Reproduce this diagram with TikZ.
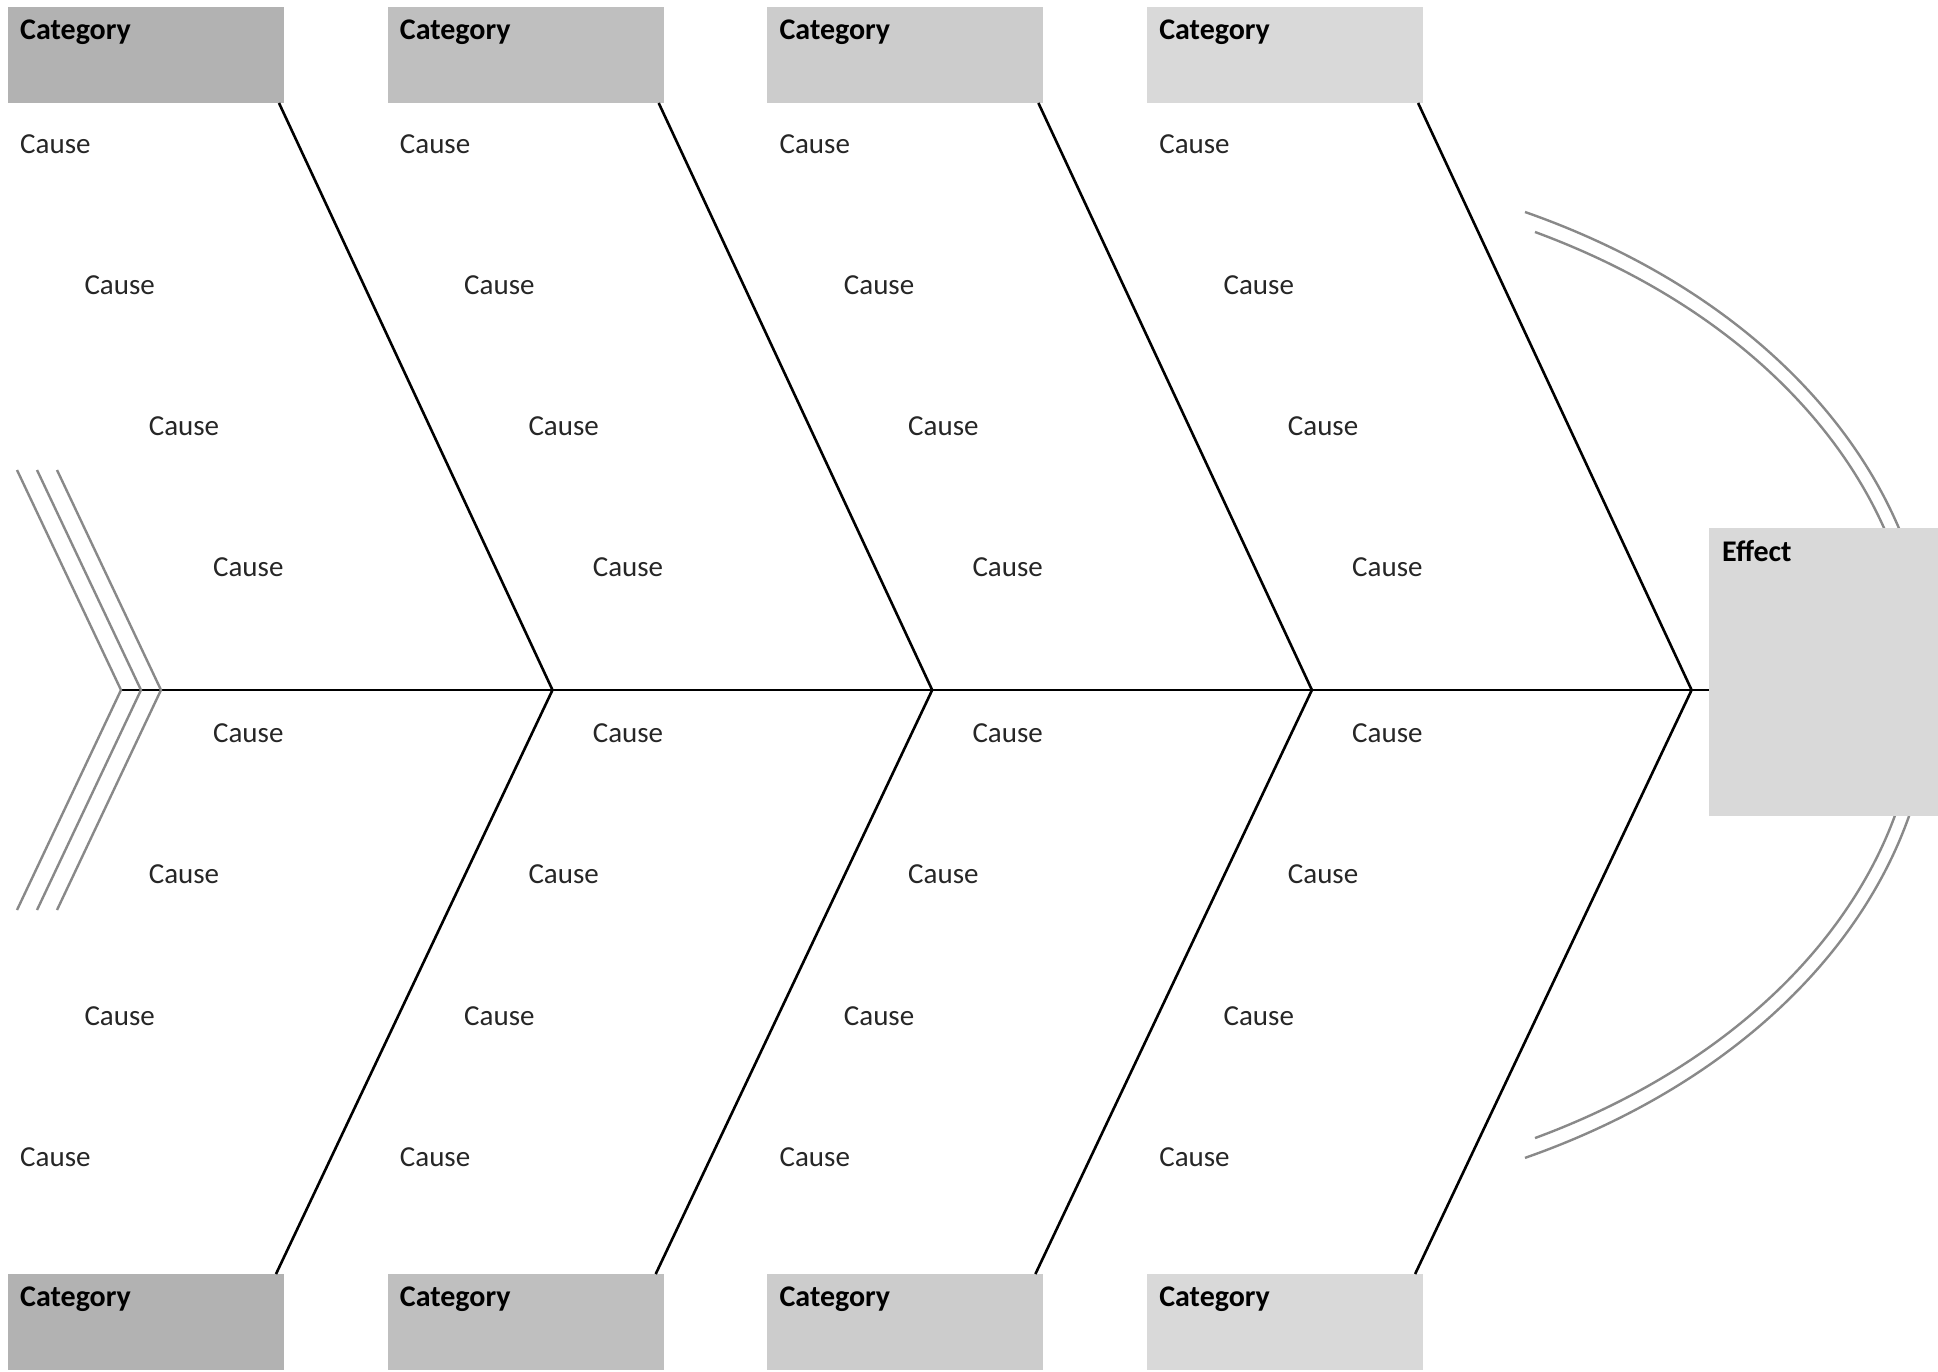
\documentclass[tikz,border=0pt]{standalone}
\usepackage{fontspec}
\setmainfont{Carlito}
\definecolor{cA}{HTML}{B2B2B2}
\definecolor{cB}{HTML}{BFBFBF}
\definecolor{cC}{HTML}{CCCCCC}
\definecolor{cD}{HTML}{D9D9D9}
\definecolor{lgray}{HTML}{898989}
\definecolor{ctext}{HTML}{262626}
\begin{document}
\begin{tikzpicture}[x=1pt,y=-1pt,
  catbox/.style={draw=none, anchor=north west, minimum width=276pt, minimum height=96pt, inner sep=0pt, outer sep=0pt},
  effbox/.style={draw=none, fill=cD, anchor=north west, minimum width=229pt, minimum height=288pt, inner sep=0pt, outer sep=0pt},
  causelbl/.style={anchor=base west, inner sep=0pt, text=ctext, font=\fontsize{29}{32}\selectfont},
  catlbl/.style={anchor=base west, inner sep=0pt, font=\fontsize{30}{33}\selectfont\bfseries},
  bone/.style={line width=2.6pt, black},
  grayline/.style={line width=2.4pt, lgray}]
\useasboundingbox (0,0) rectangle (1938,1371);

% arcs (behind effect box)
\draw[grayline] (1525,212) arc[start angle=64.5, end angle=-64.5, x radius=714pt, y radius=524pt];
\draw[grayline] (1535,232) arc[start angle=63.1, end angle=-63.1, x radius=700pt, y radius=508pt];

% effect box
\node[effbox] (eff) at (1709,528) {};
\node[catlbl] (efft) at ([xshift=13pt,yshift=-33pt]eff.north west) {Effect};

% category boxes
\foreach \i/\c in {1/cA,2/cB,3/cC,4/cD}{
  \pgfmathsetmacro{\bx}{8+379.7*(\i-1)}
  \node[catbox, fill=\c] (t\i) at (\bx,7) {};
  \node[catbox, fill=\c] (b\i) at (\bx,1274) {};
  \node[catlbl] (tt\i) at ([xshift=12pt,yshift=-32pt]t\i.north west) {Category};
  \node[catlbl] (bt\i) at ([xshift=12pt,yshift=-32pt]b\i.north west) {Category};
  \coordinate (j\i) at (\bx+544.5,690);
  \coordinate (ts\i) at ([xshift=-5pt]t\i.south east);
  \coordinate (be\i) at ([xshift=-8pt]b\i.north east);
  \draw[bone] (ts\i) -- (j\i) -- (be\i);
  % causes
  \foreach \k/\yy in {0/153,1/294,2/435,3/576}{
    \node[causelbl] (ct\i\k) at (\bx+12+64.3*\k,\yy) {Cause};
  }
  \foreach \k/\yy in {3/742,2/883,1/1025,0/1166}{
    \node[causelbl] (cb\i\k) at (\bx+12+64.3*\k,\yy) {Cause};
  }
}

% tail
\coordinate (v1) at (121,690);
\coordinate (v2) at (141,690);
\coordinate (v3) at (161,690);
\coordinate (u1) at (17,470);
\coordinate (u2) at (37,470);
\coordinate (u3) at (57,470);
\coordinate (d1) at (17,910);
\coordinate (d2) at (37,910);
\coordinate (d3) at (57,910);
\draw[bone] (v1) -- (eff.west |- v1);
\foreach \n in {1,2,3}{
  \draw[grayline] (u\n) -- (v\n) -- (d\n);
}
\end{tikzpicture}
\end{document}
